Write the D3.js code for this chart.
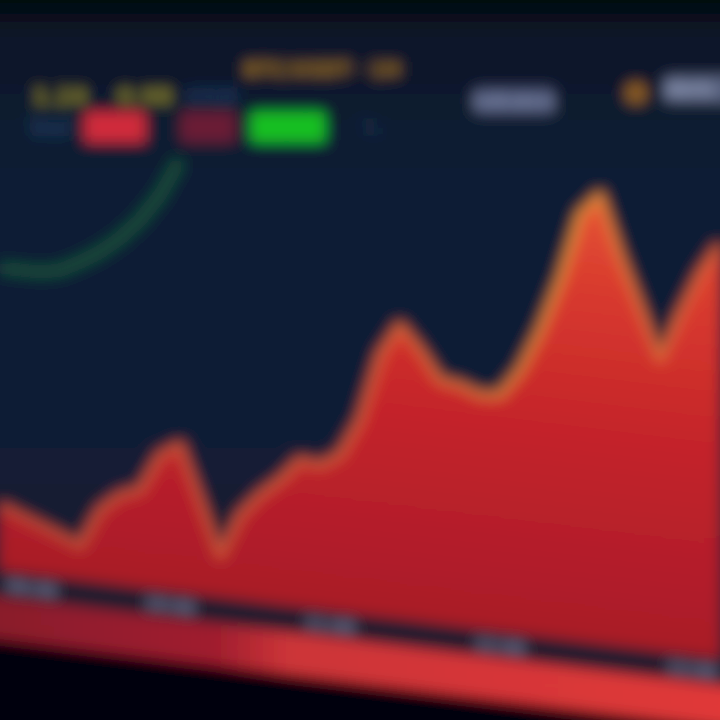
<!DOCTYPE html>
<html><head><meta charset="utf-8">
<script src="https://cdn.jsdelivr.net/npm/d3@7"></script>
<style>html,body{margin:0;padding:0;background:#0b1424;}svg{display:block;}</style>
</head><body>
<script>
// ---- data ----
const priceValues = [13.5,11.9,10.4,8.8,7.2,15.1,18.7,20.3,28.0,30.7,19.7,8.7,17.6,22.3,25.9,30.6,30.0,32.7,40.5,54.5,61.2,56.6,50.8,50.3,48.8,49.3,55.0,63.8,74.8,88.8,93.5,81.5,71.2,60.9,70.7,79.6,86.2];
const indicatorValues = [62.9,63.0,63.1,64.0,66.2,68.8,72.2,76.5,82.2,90.0];
const tickLabels = ["09:00","10:00","11:00","12:00","13:00"];
const tickIndex = [1.6,8.5,16.5,25,34.6];
const headerRow1 = ["1.24","0.98","USD"];
const headerTitle = "BTC/USDT · 1H";
const headerRow2 = ["Vol","-2.31%","-0.84%","+1.52%","%"];
const rightLabels = ["Indicators","Alerts"];

const W = 720, H = 720;
const svg = d3.select("body").append("svg").attr("width", W).attr("height", H);
const defs = svg.append("defs");
const blur = defs.append("filter").attr("id","blur").attr("x","-20%").attr("y","-20%").attr("width","140%").attr("height","140%");
blur.append("feGaussianBlur").attr("stdDeviation", 7);

const bg = defs.append("linearGradient").attr("id","bg").attr("x1",0).attr("y1",0).attr("x2",0).attr("y2",1);
[[0,"#010203"],[0.04,"#020407"],[0.09,"#0a1628"],[0.3,"#0f1f36"],[0.7,"#121c33"],[1,"#131a30"]].forEach(s=>bg.append("stop").attr("offset",s[0]).attr("stop-color",s[1]));

const redG = defs.append("linearGradient").attr("id","redfill").attr("gradientUnits","userSpaceOnUse").attr("x1",0).attr("y1",100).attr("x2",0).attr("y2",570);
[[0,"#e85a34"],[0.25,"#d83a2e"],[0.55,"#c4242a"],[1,"#a81a28"]].forEach(s=>redG.append("stop").attr("offset",s[0]).attr("stop-color",s[1]));

const edgeG = defs.append("linearGradient").attr("id","edge").attr("gradientUnits","userSpaceOnUse").attr("x1",0).attr("y1",0).attr("x2",720).attr("y2",0);
[[0,"#d8583a"],[0.5,"#e8663a"],[0.8,"#f2a038"],[0.9,"#ec7a3a"],[1,"#e8663a"]].forEach(s=>edgeG.append("stop").attr("offset",s[0]).attr("stop-color",s[1]));

const bandG = defs.append("linearGradient").attr("id","band").attr("gradientUnits","userSpaceOnUse").attr("x1",0).attr("y1",0).attr("x2",720).attr("y2",0);
[[0,"#8a1a2c"],[0.3,"#a01e2e"],[0.4,"#cc3438"],[1,"#e03838"]].forEach(s=>bandG.append("stop").attr("offset",s[0]).attr("stop-color",s[1]));

const root = svg.append("g").attr("filter","url(#blur)");
root.append("rect").attr("x",-40).attr("y",-40).attr("width",W+80).attr("height",H+80).attr("fill","url(#bg)");

// ---- chart (tilted) ----
const chart = root.append("g").attr("transform","skewY(7)");
const x = d3.scaleLinear().domain([0, priceValues.length-1]).range([0, W]);
const y = d3.scaleLinear().domain([0, 100]).range([570, 90]);

chart.append("rect").attr("x",-30).attr("y",y(0)).attr("width",W+60).attr("height",28).attr("fill","#1c1a2e");
chart.append("rect").attr("x",-30).attr("y",y(0)+27).attr("width",W+60).attr("height",42).attr("fill","url(#band)");
chart.append("rect").attr("x",-30).attr("y",y(0)+69).attr("width",W+60).attr("height",200).attr("fill","#05060b");

const idx = d3.range(priceValues.length);
const area = d3.area().x(i=>x(i)).y0(y(0)).y1(i=>y(priceValues[i])).curve(d3.curveLinear);
chart.append("path").datum(idx).attr("d", area).attr("fill","url(#redfill)");
const line = d3.line().x(i=>x(i)).y(i=>y(priceValues[i]));
chart.append("path").datum(idx).attr("d", line).attr("fill","none").attr("stroke","url(#edge)").attr("stroke-width",9).attr("stroke-opacity",0.75).attr("stroke-linejoin","round");

const gline = d3.line().x((d,i)=>x(i)).y(d=>y(d));
chart.append("path").datum(indicatorValues).attr("d", gline).attr("fill","none").attr("stroke","#17603a").attr("stroke-opacity",0.65).attr("stroke-width",13).attr("stroke-linejoin","round");

chart.selectAll("text.tick").data(tickLabels).join("text")
  .attr("class","tick").attr("x",(d,i)=>x(tickIndex[i])).attr("y",y(0)+20)
  .attr("text-anchor","middle").attr("font-family","DejaVu Sans, sans-serif").attr("font-weight","bold")
  .attr("font-size",16).attr("fill","#7a7e9e").text(d=>d);

// ---- header ----
const hdr = root.append("g").attr("font-family","DejaVu Sans, sans-serif").attr("font-weight","bold");
hdr.append("text").attr("x",322).attr("y",76).attr("text-anchor","middle").attr("font-size",19).attr("fill","#9a7022").text(headerTitle);
const r1x = [60,145,212], r1c = ["#8a8424","#8a8424","#1c3a60"];
hdr.selectAll("text.r1").data(headerRow1).join("text").attr("class","r1")
  .attr("x",(d,i)=>r1x[i]).attr("y",104).attr("text-anchor","middle").attr("font-size",22).attr("fill",(d,i)=>r1c[i]).text(d=>d);
const r2 = [{x:50,w:0,c:"#1c3a5e"},{x:115,w:60,c:"#d02a3a"},{x:208,w:54,c:"#6a1c34"},{x:288,w:74,c:"#12c022"},{x:370,w:0,c:"#1c2c4c"}];
r2.forEach((b,i)=>{
  if(b.w>0){
    hdr.append("rect").attr("x",b.x-b.w/2).attr("y",112).attr("width",b.w).attr("height",30).attr("rx",3).attr("fill",b.c);
    hdr.append("text").attr("x",b.x).attr("y",133).attr("text-anchor","middle").attr("font-size",14).attr("fill",b.c).attr("opacity",0.6).text(headerRow2[i]);
  } else {
    hdr.append("text").attr("x",b.x).attr("y",136).attr("text-anchor","middle").attr("font-size",24).attr("fill",b.c).text(headerRow2[i]);
  }
});
hdr.append("rect").attr("x",474).attr("y",88).attr("width",80).attr("height",26).attr("rx",4).attr("fill","#465070");
hdr.append("text").attr("x",514).attr("y",106).attr("text-anchor","middle").attr("font-size",14).attr("fill","#8a96b8").text(rightLabels[0]);
hdr.append("circle").attr("cx",636).attr("cy",93).attr("r",11).attr("fill","#8a5c20");
hdr.append("rect").attr("x",664).attr("y",76).attr("width",70).attr("height",26).attr("rx",4).attr("fill","#56607e");
hdr.append("text").attr("x",690).attr("y",94).attr("text-anchor","middle").attr("font-size",14).attr("fill","#a0aac8").text(rightLabels[1]);
</script>
</body></html>
